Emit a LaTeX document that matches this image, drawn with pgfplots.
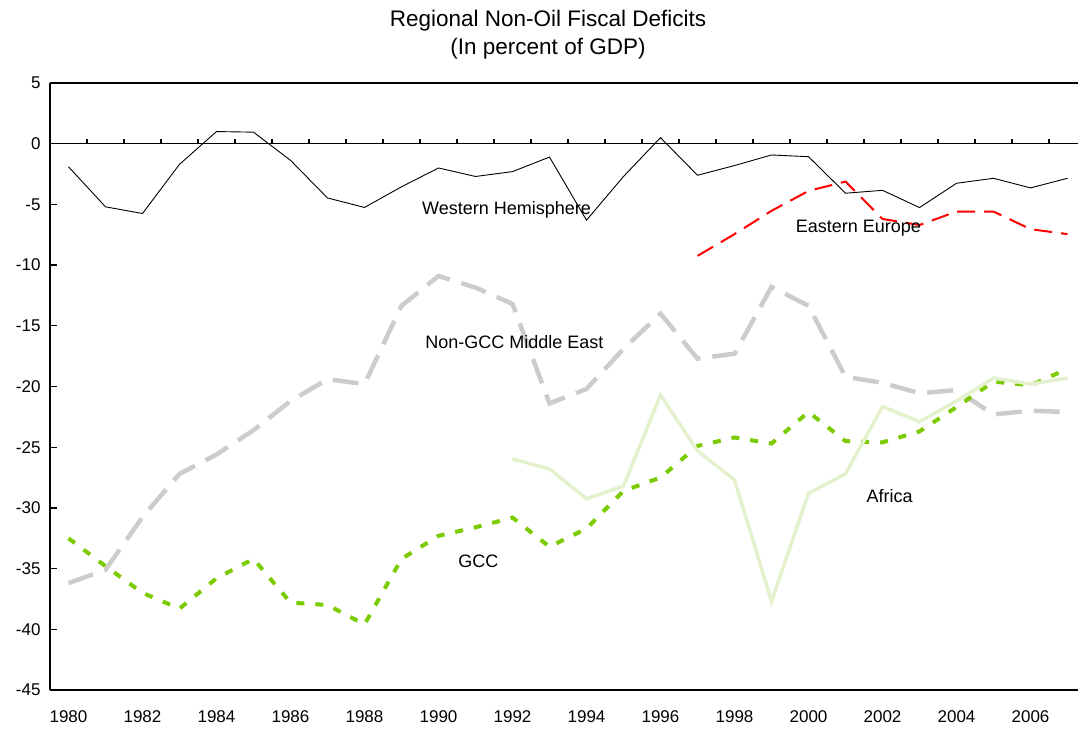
\documentclass[border=0pt]{standalone}
\usepackage{pgfplots}
\pgfplotsset{compat=1.18}
\usepackage{fontspec}
\setmainfont{Liberation Sans}

\definecolor{eegreen}{RGB}{122,204,0}
\definecolor{afr}{RGB}{228,241,206}
\definecolor{ngcc}{RGB}{204,204,204}

\begin{document}
\begin{tikzpicture}
\path[use as bounding box] (-50pt,-38pt) rectangle (1028pt,690pt);
\begin{axis}[
  scale only axis,
  width=1028pt, height=607pt,
  xmin=1979.5, xmax=2007.284,
  ymin=-45, ymax=5,
  axis x line*=box, axis y line*=left,
  axis line style={-, line width=1.4pt},
  xtick={1980,1982,...,2006},
  xticklabel pos=lower,
  x tick style={draw=none},
  xticklabel style={/pgf/number format/1000 sep=, yshift=-17pt},
  ytick={-45,-40,...,5},
  ytick pos=left,
  y tick style={line width=1.3pt, black},
  tick align=inside,
  major tick length=7pt,
  yticklabel style={xshift=-6pt},
  /pgf/number format/assume math mode=true,
  tick label style={font=\fontsize{17}{20}\selectfont},
  clip=false,
]
\addplot[color=ngcc, line width=4.5pt, dash pattern=on 26pt off 12pt] coordinates {
(1980,-36.2) (1981,-35.1) (1982,-30.75) (1983,-27.2) (1984,-25.6) (1985,-23.6)
(1986,-21.2) (1987,-19.4) (1988,-19.8) (1989,-13.35) (1990,-10.9) (1991,-11.85)
(1992,-13.2) (1993,-21.4) (1994,-20.2) (1995,-16.9) (1996,-14.0) (1997,-17.7)
(1998,-17.3) (1999,-11.8) (2000,-13.35) (2001,-19.2) (2002,-19.7) (2003,-20.55)
(2004,-20.3) (2005,-22.3) (2006,-22.0) (2007,-22.1)};
\addplot[color=eegreen, line width=4pt, dash pattern=on 8pt off 11pt] coordinates {
(1980,-32.5) (1981,-34.8) (1982,-37.0) (1983,-38.3) (1984,-35.8) (1985,-34.2)
(1986,-37.8) (1987,-38.0) (1988,-39.6) (1989,-34.2) (1990,-32.3) (1991,-31.6)
(1992,-30.8) (1993,-33.2) (1994,-31.7) (1995,-28.6) (1996,-27.5) (1997,-24.9)
(1998,-24.2) (1999,-24.7) (2000,-22.1) (2001,-24.5) (2002,-24.6) (2003,-23.7)
(2004,-21.7) (2005,-19.6) (2006,-19.9) (2007,-18.55)};
\addplot[color=afr, line width=3.5pt] coordinates {
(1992,-25.96) (1993,-26.8) (1994,-29.25) (1995,-28.2) (1996,-20.7) (1997,-25.3)
(1998,-27.7) (1999,-37.7) (2000,-28.8) (2001,-27.2) (2002,-21.65) (2003,-22.9)
(2004,-21.2) (2005,-19.3) (2006,-19.8) (2007,-19.3)};
\addplot[color=red, line width=2pt, dash pattern=on 18pt off 9pt] coordinates {
(1997,-9.24) (1998,-7.45) (1999,-5.53) (2000,-3.89) (2001,-3.12) (2002,-6.2)
(2003,-6.7) (2004,-5.59) (2005,-5.59) (2006,-7.04) (2007,-7.45)};
\addplot[color=black, line width=0.9pt] coordinates {
(1980,-1.9) (1981,-5.2) (1982,-5.75) (1983,-1.7) (1984,1.0) (1985,0.95)
(1986,-1.37) (1987,-4.47) (1988,-5.25) (1989,-3.55) (1990,-2.0) (1991,-2.7)
(1992,-2.3) (1993,-1.1) (1994,-6.3) (1995,-2.7) (1996,0.5) (1997,-2.6)
(1998,-1.8) (1999,-0.93) (2000,-1.07) (2001,-4.08) (2002,-3.84) (2003,-5.26)
(2004,-3.26) (2005,-2.85) (2006,-3.64) (2007,-2.85)};
\draw[line width=1.4pt] (axis cs:1979.5,0) -- (axis cs:2007.284,0);
\pgfplotsinvokeforeach{1980,...,2006}{\draw[line width=1.3pt] (axis cs:#1.5,0) -- ++(0pt,5pt);}
\begin{scope}[every node/.style={font=\fontsize{18}{21}\selectfont}]
\node at (axis cs:1991.84,-5.46) {Western Hemisphere};
\node at (axis cs:2001.35,-6.93) {Eastern Europe};
\node at (axis cs:1992.05,-16.3) {Non-GCC Middle East};
\node at (axis cs:1991.08,-34.4) {GCC};
\node at (axis cs:2002.19,-29.06) {Africa};
\end{scope}
\end{axis}
\node[font=\fontsize{22.5}{27}\selectfont] at (498pt,669pt) {Regional Non-Oil Fiscal Deficits};
\node[font=\fontsize{22.5}{27}\selectfont] at (498pt,641pt) {(In percent of GDP)};
\end{tikzpicture}
\end{document}
